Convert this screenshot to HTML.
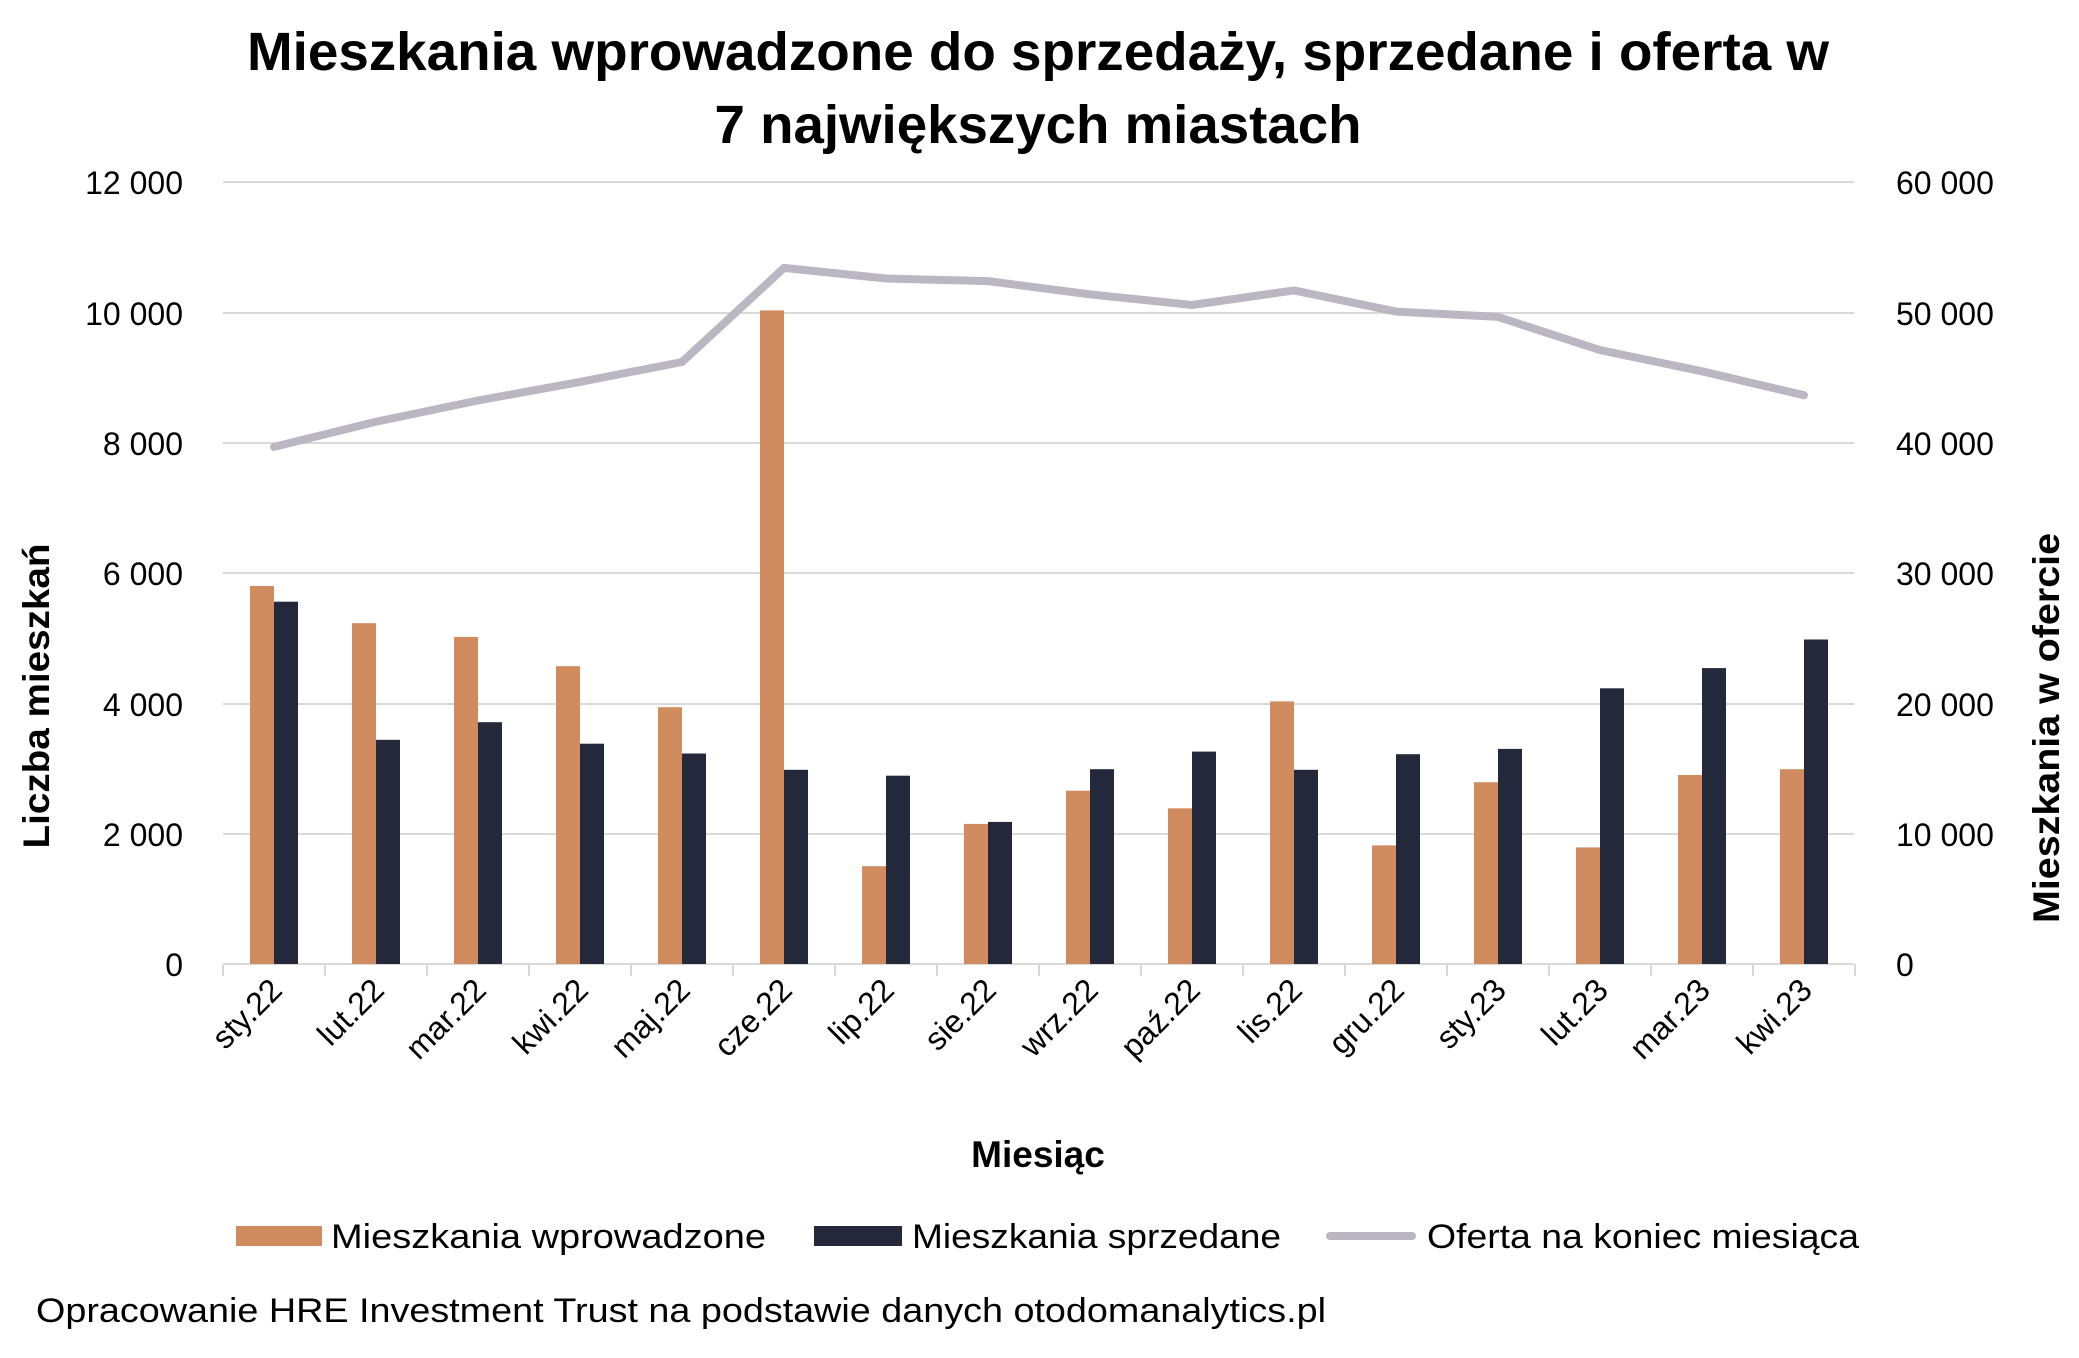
<!DOCTYPE html>
<html><head><meta charset="utf-8"><style>
html,body{margin:0;padding:0;background:#fff}
svg{display:block;font-family:"Liberation Sans",sans-serif}
</style></head><body>
<svg width="2079" height="1358" viewBox="0 0 2079 1358" xmlns="http://www.w3.org/2000/svg">
<rect width="2079" height="1358" fill="#fff"/>
<text x="1038" y="70" font-size="54" font-weight="bold" text-anchor="middle" textLength="1582" lengthAdjust="spacingAndGlyphs" fill="#000">Mieszkania wprowadzone do sprzedaży, sprzedane i oferta w</text>
<text x="1038" y="143" font-size="54" font-weight="bold" text-anchor="middle" textLength="647" lengthAdjust="spacingAndGlyphs" fill="#000">7 największych miastach</text>
<g stroke="#d9d9d9" stroke-width="2">
<line x1="223" x2="1854" y1="182" y2="182"/><line x1="223" x2="1854" y1="313" y2="313"/>
<line x1="223" x2="1854" y1="443" y2="443"/><line x1="223" x2="1854" y1="573" y2="573"/>
<line x1="223" x2="1854" y1="704" y2="704"/><line x1="223" x2="1854" y1="834" y2="834"/>
<line x1="223" x2="1854" y1="964" y2="964"/>
<line x1="223" x2="223" y1="964" y2="976"/><line x1="325" x2="325" y1="964" y2="976"/><line x1="427" x2="427" y1="964" y2="976"/><line x1="529" x2="529" y1="964" y2="976"/><line x1="631" x2="631" y1="964" y2="976"/><line x1="733" x2="733" y1="964" y2="976"/><line x1="835" x2="835" y1="964" y2="976"/><line x1="937" x2="937" y1="964" y2="976"/><line x1="1039" x2="1039" y1="964" y2="976"/><line x1="1141" x2="1141" y1="964" y2="976"/><line x1="1243" x2="1243" y1="964" y2="976"/><line x1="1345" x2="1345" y1="964" y2="976"/><line x1="1447" x2="1447" y1="964" y2="976"/><line x1="1549" x2="1549" y1="964" y2="976"/><line x1="1651" x2="1651" y1="964" y2="976"/><line x1="1753" x2="1753" y1="964" y2="976"/><line x1="1855" x2="1855" y1="964" y2="976"/>
</g>
<g font-size="32" fill="#000" text-anchor="end">
<text x="183" y="194">12 000</text><text x="183" y="325">10 000</text><text x="183" y="455">8 000</text><text x="183" y="585">6 000</text><text x="183" y="716">4 000</text><text x="183" y="846">2 000</text><text x="183" y="976">0</text>
</g>
<g font-size="32" fill="#000" text-anchor="start">
<text x="1896" y="194">60 000</text><text x="1896" y="325">50 000</text><text x="1896" y="455">40 000</text><text x="1896" y="585">30 000</text><text x="1896" y="716">20 000</text><text x="1896" y="846">10 000</text><text x="1896" y="976">0</text>
</g>
<g fill="#d08c5f">
<rect x="250" y="586" width="24" height="378"/><rect x="352" y="623.2" width="24" height="340.8"/><rect x="454" y="636.9" width="24" height="327.1"/><rect x="556" y="666.2" width="24" height="297.8"/><rect x="658" y="707.2" width="24" height="256.8"/><rect x="760" y="310.4" width="24" height="653.6"/><rect x="862" y="866.2" width="24" height="97.8"/><rect x="964" y="823.9" width="24" height="140.1"/><rect x="1066" y="790.7" width="24" height="173.3"/><rect x="1168" y="808.3" width="24" height="155.7"/><rect x="1270" y="701.4" width="24" height="262.6"/><rect x="1372" y="845.4" width="24" height="118.6"/><rect x="1474" y="782.2" width="24" height="181.8"/><rect x="1576" y="847.4" width="24" height="116.6"/><rect x="1678" y="775" width="24" height="189"/><rect x="1780" y="769.2" width="24" height="194.8"/>
</g>
<g fill="#23283a">
<rect x="274" y="601.7" width="24" height="362.3"/><rect x="376" y="739.8" width="24" height="224.2"/><rect x="478" y="722.2" width="24" height="241.8"/><rect x="580" y="743.7" width="24" height="220.3"/><rect x="682" y="753.5" width="24" height="210.5"/><rect x="784" y="769.8" width="24" height="194.2"/><rect x="886" y="775.7" width="24" height="188.3"/><rect x="988" y="821.9" width="24" height="142.1"/><rect x="1090" y="769.2" width="24" height="194.8"/><rect x="1192" y="751.6" width="24" height="212.4"/><rect x="1294" y="769.8" width="24" height="194.2"/><rect x="1396" y="754.2" width="24" height="209.8"/><rect x="1498" y="748.9" width="24" height="215.1"/><rect x="1600" y="688.3" width="24" height="275.7"/><rect x="1702" y="668.1" width="24" height="295.9"/><rect x="1804" y="639.5" width="24" height="324.5"/>
</g>
<polyline fill="none" stroke="#bcb6c3" stroke-width="8" stroke-linecap="round" stroke-linejoin="round" points="274,446.9 376,421.7 478,400.5 580,381.9 682,362 784,267.9 886,278.5 988,281.1 1090,294.4 1192,305 1294,290.4 1396,311.6 1498,316.9 1600,350.1 1702,371.3 1804,395.2"/>
<g font-size="32" fill="#000" text-anchor="end">
<text transform="translate(284,992) rotate(-45)">sty.22</text>
<text transform="translate(386,992) rotate(-45)">lut.22</text>
<text transform="translate(488,992) rotate(-45)">mar.22</text>
<text transform="translate(590,992) rotate(-45)">kwi.22</text>
<text transform="translate(692,992) rotate(-45)">maj.22</text>
<text transform="translate(794,992) rotate(-45)">cze.22</text>
<text transform="translate(896,992) rotate(-45)">lip.22</text>
<text transform="translate(998,992) rotate(-45)">sie.22</text>
<text transform="translate(1100,992) rotate(-45)">wrz.22</text>
<text transform="translate(1202,992) rotate(-45)">paź.22</text>
<text transform="translate(1304,992) rotate(-45)">lis.22</text>
<text transform="translate(1406,992) rotate(-45)">gru.22</text>
<text transform="translate(1508,992) rotate(-45)">sty.23</text>
<text transform="translate(1610,992) rotate(-45)">lut.23</text>
<text transform="translate(1712,992) rotate(-45)">mar.23</text>
<text transform="translate(1814,992) rotate(-45)">kwi.23</text>
</g>
<text x="1038" y="1167" font-size="37" font-weight="bold" text-anchor="middle">Miesiąc</text>
<text transform="translate(49,696) rotate(-90)" font-size="37" font-weight="bold" text-anchor="middle" textLength="305" lengthAdjust="spacingAndGlyphs">Liczba mieszkań</text>
<text transform="translate(2059,728) rotate(-90)" font-size="37" font-weight="bold" text-anchor="middle" textLength="390" lengthAdjust="spacingAndGlyphs">Mieszkania w ofercie</text>
<rect x="236" y="1226" width="86" height="20" fill="#d08c5f"/>
<text x="331" y="1248" font-size="34" textLength="435" lengthAdjust="spacingAndGlyphs">Mieszkania wprowadzone</text>
<rect x="814" y="1226" width="88" height="20" fill="#23283a"/>
<text x="912" y="1248" font-size="34" textLength="369" lengthAdjust="spacingAndGlyphs">Mieszkania sprzedane</text>
<line x1="1330" x2="1412" y1="1236" y2="1236" stroke="#bcb6c3" stroke-width="8" stroke-linecap="round"/>
<text x="1427" y="1248" font-size="34" textLength="432" lengthAdjust="spacingAndGlyphs">Oferta na koniec miesiąca</text>
<text x="36" y="1322" font-size="34" textLength="1290" lengthAdjust="spacingAndGlyphs">Opracowanie HRE Investment Trust na podstawie danych otodomanalytics.pl</text>
</svg>
</body></html>
